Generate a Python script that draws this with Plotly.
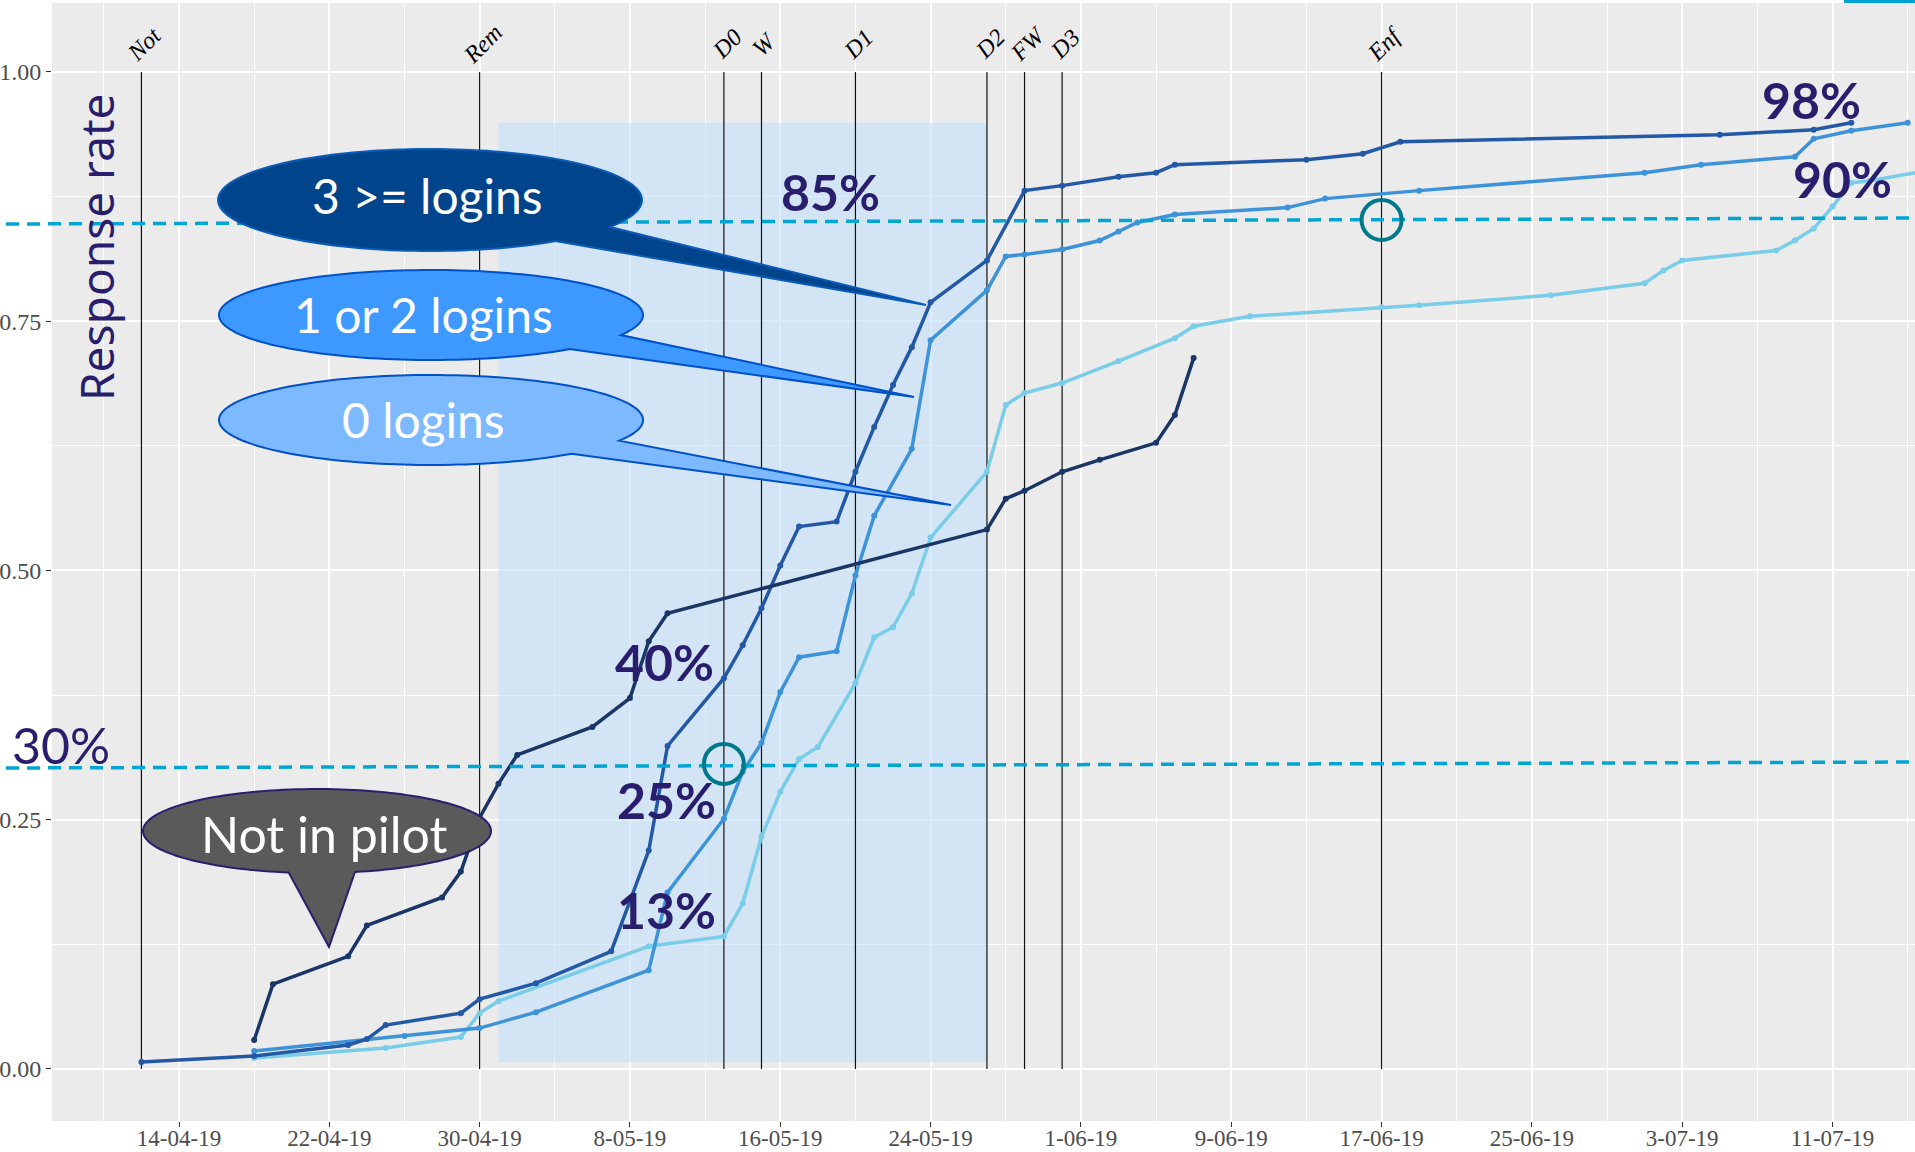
import numpy as np
import plotly.graph_objects as go

# ---------------- data ----------------
not_pilot_dates = ["2019-04-18", "2019-04-19", "2019-04-23", "2019-04-24", "2019-04-28", "2019-04-29",
                   "2019-04-30", "2019-05-01", "2019-05-02", "2019-05-06", "2019-05-08", "2019-05-09",
                   "2019-05-10", "2019-05-27", "2019-05-28", "2019-05-29", "2019-05-31", "2019-06-02",
                   "2019-06-05", "2019-06-06", "2019-06-07"]
not_pilot_vals = [0.029, 0.085, 0.113, 0.144, 0.172, 0.198, 0.252, 0.286, 0.315, 0.343, 0.372, 0.429,
                  0.457, 0.541, 0.572, 0.580, 0.599, 0.611, 0.628, 0.656, 0.713]

three_plus_dates = ["2019-04-12", "2019-04-18", "2019-04-23", "2019-04-24", "2019-04-25", "2019-04-29",
                    "2019-04-30", "2019-05-03", "2019-05-07", "2019-05-09", "2019-05-10", "2019-05-13",
                    "2019-05-14", "2019-05-15", "2019-05-16", "2019-05-17", "2019-05-19", "2019-05-20",
                    "2019-05-21", "2019-05-22", "2019-05-23", "2019-05-24", "2019-05-27", "2019-05-29",
                    "2019-05-31", "2019-06-03", "2019-06-05", "2019-06-06", "2019-06-13", "2019-06-16",
                    "2019-06-18", "2019-07-05", "2019-07-10", "2019-07-12"]
three_plus_vals = [0.007, 0.013, 0.024, 0.030, 0.044, 0.056, 0.070, 0.086, 0.118, 0.219, 0.324, 0.392,
                   0.425, 0.462, 0.505, 0.544, 0.549, 0.599, 0.644, 0.686, 0.724, 0.769, 0.811, 0.881,
                   0.886, 0.895, 0.899, 0.907, 0.912, 0.918, 0.930, 0.937, 0.942, 0.949]

one_two_dates = ["2019-04-18", "2019-04-26", "2019-04-30", "2019-05-03", "2019-05-09", "2019-05-10",
                 "2019-05-13", "2019-05-14", "2019-05-15", "2019-05-16", "2019-05-17", "2019-05-19",
                 "2019-05-20", "2019-05-21", "2019-05-23", "2019-05-24", "2019-05-27", "2019-05-28",
                 "2019-05-29", "2019-05-31", "2019-06-02", "2019-06-03", "2019-06-04", "2019-06-06",
                 "2019-06-12", "2019-06-14", "2019-06-19", "2019-07-01", "2019-07-04", "2019-07-09",
                 "2019-07-10", "2019-07-12", "2019-07-15"]
one_two_vals = [0.018, 0.033, 0.041, 0.057, 0.099, 0.177, 0.251, 0.298, 0.327, 0.378, 0.413, 0.419,
                0.495, 0.555, 0.622, 0.731, 0.781, 0.815, 0.817, 0.822, 0.831, 0.840, 0.849, 0.857,
                0.864, 0.873, 0.881, 0.899, 0.907, 0.915, 0.933, 0.941, 0.949]

zero_dates = ["2019-04-18", "2019-04-25", "2019-04-29", "2019-04-30", "2019-05-01", "2019-05-09",
              "2019-05-13", "2019-05-14", "2019-05-15", "2019-05-16", "2019-05-17", "2019-05-18",
              "2019-05-20", "2019-05-21", "2019-05-22", "2019-05-23", "2019-05-24", "2019-05-27",
              "2019-05-28", "2019-05-29", "2019-05-31", "2019-06-03", "2019-06-06", "2019-06-07",
              "2019-06-10", "2019-06-17", "2019-06-19", "2019-06-26", "2019-07-01", "2019-07-02",
              "2019-07-03", "2019-07-08", "2019-07-09", "2019-07-10", "2019-07-11", "2019-07-12",
              "2019-07-13", "2019-07-16"]
zero_vals = [0.011, 0.021, 0.032, 0.056, 0.068, 0.123, 0.133, 0.166, 0.233, 0.278, 0.311, 0.323,
             0.387, 0.433, 0.443, 0.477, 0.533, 0.599, 0.666, 0.678, 0.688, 0.710, 0.733, 0.745,
             0.755, 0.764, 0.766, 0.776, 0.788, 0.801, 0.811, 0.821, 0.831, 0.843, 0.865, 0.889,
             0.891, 0.901]

event_names = ["Not", "Rem", "D0", "W", "D1", "D2", "FW", "D3", "Enf"]
event_dates = ["2019-04-12", "2019-04-30", "2019-05-13", "2019-05-15", "2019-05-20",
               "2019-05-27", "2019-05-29", "2019-05-31", "2019-06-17"]

x_tick_dates = ["2019-04-14", "2019-04-22", "2019-04-30", "2019-05-08", "2019-05-16", "2019-05-24",
                "2019-06-01", "2019-06-09", "2019-06-17", "2019-06-25", "2019-07-03", "2019-07-11"]
x_tick_labels = ["14-04-19", "22-04-19", "30-04-19", "8-05-19", "16-05-19", "24-05-19",
                 "1-06-19", "9-06-19", "17-06-19", "25-06-19", "3-07-19", "11-07-19"]
y_tick_vals = [0.0, 0.25, 0.5, 0.75, 1.0]
y_tick_labels = ["0.00", "0.25", "0.50", "0.75", "1.00"]

# ---------------- geometry helpers ----------------
W, H = 1915, 1152
L, R, T, B = 52, 1915, 3, 1121


def px(x):
    return (x - L) / (R - L)


def py(y):
    return (B - y) / (B - T)


def bubble_path(cx, cy, rx, ry, a, b, tip, n=160):
    ta = np.arctan2((a[1] - cy) / ry, (a[0] - cx) / rx)
    tb = np.arctan2((b[1] - cy) / ry, (b[0] - cx) / rx)
    lo, hi = min(ta, tb), max(ta, tb)
    th = np.linspace(hi, lo + 2 * np.pi, n)
    pts = [(cx + rx * np.cos(t), cy + ry * np.sin(t)) for t in th] + [tip]
    return "M " + " L ".join(f"{px(x):.5f},{py(y):.5f}" for x, y in pts) + " Z"


TXT = "#291e6e"

fig = go.Figure()

series = [
    (zero_dates, zero_vals, "#79cde8", "0 logins"),
    (one_two_dates, one_two_vals, "#3d93d9", "1 or 2 logins"),
    (three_plus_dates, three_plus_vals, "#2358a6", "3 >= logins"),
    (not_pilot_dates, not_pilot_vals, "#1a3666", "Not in pilot"),
]
for xs, ys, col, name in series:
    fig.add_trace(go.Scatter(x=xs, y=ys, mode="lines+markers", name=name,
                             line=dict(color=col, width=3.5),
                             marker=dict(color=col, size=6), cliponaxis=True))

shapes = []
# shaded period
shapes.append(dict(type="rect", xref="x", yref="y", x0="2019-05-01", x1="2019-05-27",
                   y0=0.007, y1=0.949, fillcolor="rgba(195,225,250,0.6)",
                   line=dict(width=0), layer="between"))
# event lines
for d in event_dates:
    shapes.append(dict(type="line", xref="x", yref="y", x0=d, x1=d, y0=0, y1=1,
                       line=dict(color="#111111", width=1.2), layer="between"))
# dashed target lines
shapes.append(dict(type="line", xref="paper", yref="paper", x0=px(6), x1=px(1915),
                   y0=py(224), y1=py(218), line=dict(color="#00a5d2", width=3.5, dash="13px,8px"),
                   layer="above"))
shapes.append(dict(type="line", xref="paper", yref="paper", x0=px(6), x1=px(1915),
                   y0=py(768), y1=py(762), line=dict(color="#00a5d2", width=3.5, dash="13px,8px"),
                   layer="above"))
# teal rings
for d, v in [("2019-05-13", 0.306), ("2019-06-17", 0.8516)]:
    shapes.append(dict(type="circle", xref="x", yref="y", xsizemode="pixel", ysizemode="pixel",
                       xanchor=d, yanchor=v, x0=-20, x1=20, y0=-20, y1=20,
                       line=dict(color="#00788c", width=4), layer="above"))
# speech bubbles
bubbles = [
    (430, 200, 212, 51, (617, 228), (561, 243), (926, 305), "#00448c", "#0a5cb8"),
    (431, 315, 212, 45, (620, 335), (569, 349), (914, 397), "#3d98ff", "#0050c8"),
    (431, 420, 212, 45, (622, 441), (573, 454), (951, 505), "#7db9ff", "#0050c8"),
    (317, 831, 174, 42, (289, 872), (355, 872), (329, 947), "#5a5a5a", "#2a1f6e"),
]
for cx, cy, rx, ry, a, b, tip, fill, edge in bubbles:
    shapes.append(dict(type="path", xref="paper", yref="paper",
                       path=bubble_path(cx, cy, rx, ry, a, b, tip),
                       fillcolor=fill, line=dict(color=edge, width=2), layer="above"))
# small cyan mark at top right
shapes.append(dict(type="rect", xref="paper", yref="paper", x0=px(1844), x1=px(1915),
                   y0=py(3), y1=py(0), fillcolor="#00a0d2", line=dict(width=0), layer="above"))

annotations = []
for name, d in zip(event_names, event_dates):
    annotations.append(dict(x=d, y=1.0, xref="x", yref="y", text=name, showarrow=False,
                            textangle=-45, xanchor="center", yanchor="middle",
                            xshift=3, yshift=28,
                            font=dict(family="Liberation Serif", size=24, color="black",
                                      style="italic")))

bubble_texts = [("3 >= logins", 427, 195, 48), ("1 or 2 logins", 423, 314, 48),
                ("0 logins", 423, 419, 48), ("Not in pilot", 324, 834, 50)]
for t, x, y, s in bubble_texts:
    annotations.append(dict(x=px(x), y=py(y), xref="paper", yref="paper", text=t, showarrow=False,
                            xanchor="center", yanchor="middle",
                            font=dict(family="Lato", size=s, color="white")))

pct_labels = [("85%", 830, 192, True), ("98%", 1811, 100, True), ("90%", 1842, 179, True),
              ("40%", 664, 662, True), ("25%", 666, 800, True), ("13%", 666, 910, True),
              ("30%", 61, 745, False)]
for t, x, y, bold in pct_labels:
    annotations.append(dict(x=px(x), y=py(y), xref="paper", yref="paper", text=t, showarrow=False,
                            xanchor="center", yanchor="middle",
                            font=dict(family="Lato", size=50, color=TXT,
                                      weight="bold" if bold else "normal")))

annotations.append(dict(x=px(96), y=py(247), xref="paper", yref="paper", text="Response rate",
                        showarrow=False, textangle=-90, xanchor="center", yanchor="middle",
                        font=dict(family="Noto Sans", size=46, color=TXT)))

fig.update_layout(
    width=W, height=H, autosize=False,
    margin=dict(l=L, r=W - R, t=T, b=H - B, pad=0, autoexpand=False),
    paper_bgcolor="white", plot_bgcolor="#ebebeb",
    showlegend=False,
    shapes=shapes, annotations=annotations,
    xaxis=dict(type="date", range=["2019-04-07 05:47", "2019-07-15 09:22"], automargin=False,
               tickmode="array", tickvals=x_tick_dates, ticktext=x_tick_labels,
               showgrid=True, gridcolor="white", gridwidth=2,
               minor=dict(tickmode="linear", tick0="2019-04-10", dtick=4 * 86400000,
                          showgrid=True, gridcolor="white", gridwidth=1, ticks=""),
               ticks="outside", ticklen=5, tickcolor="#333333", tickwidth=1,
               ticklabelstandoff=-9,
               tickfont=dict(family="Liberation Serif", size=23, color="#4d4d4d"),
               zeroline=False, showline=False),
    yaxis=dict(range=[-0.0522, 1.0692], automargin=False, tickmode="array", tickvals=y_tick_vals,
               ticktext=y_tick_labels,
               showgrid=True, gridcolor="white", gridwidth=2,
               minor=dict(tickmode="linear", tick0=0, dtick=0.125, showgrid=True,
                          gridcolor="white", gridwidth=1, ticks=""),
               ticks="outside", ticklen=5, tickcolor="#333333", tickwidth=1,
               tickfont=dict(family="Liberation Serif", size=24, color="#4d4d4d"),
               zeroline=False, showline=False),
)

fig.write_html("out.html")
